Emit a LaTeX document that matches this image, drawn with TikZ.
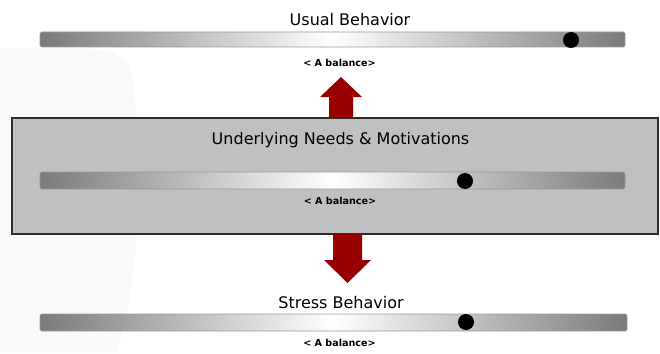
\documentclass[tikz,border=0pt]{standalone}
\usepackage{fontspec}
\setmainfont{DejaVu Sans}
\usetikzlibrary{positioning,calc}
\definecolor{BarGray}{RGB}{122,122,122}
\definecolor{PanelGray}{RGB}{192,192,192}
\definecolor{PanelEdge}{RGB}{45,45,45}
\definecolor{ArrowRed}{RGB}{153,0,0}
\definecolor{HazeBlue}{RGB}{248,249,251}

\begin{document}
\begin{tikzpicture}[
      x=1pt,y=-1pt,
      barNode/.style={left color=BarGray,right color=BarGray,middle color=white,
                      draw=BarGray!75,line width=0.6pt,rounded corners=1.5pt,
                      minimum width=585pt,minimum height=16pt,inner sep=0pt},
      knob/.style={circle,fill=black,minimum size=16pt,inner sep=0pt},
      headText/.style={anchor=base,inner sep=0pt,font=\fontsize{16}{18}\selectfont},
      tagText/.style={anchor=base,inner sep=0pt,font=\fontsize{9.6}{11}\selectfont\bfseries},
      blockArrow/.style={fill=ArrowRed}
    ]
    \useasboundingbox (0,0) rectangle (660,353);

    % faint backdrop on the left
    \fill[HazeBlue] (0,48) -- (90,49) .. controls (122,51) and (131,60) .. (134,90)
      .. controls (142,180) and (140,280) .. (116,353) -- (0,353) -- cycle;

    % Panel in the middle
    \node(panel)[draw=PanelEdge,fill=PanelGray,line width=1.4pt,
                 minimum width=646pt,minimum height=116pt,inner sep=0pt] at (335,176) {};

    % Top scale: usual behavior
    \node(usualText)[headText] at (350,26) {Usual Behavior};
    \node(usualBar)[barNode,minimum height=15pt] at (332.5,39.5) {};
    \node(usualKnob)[knob] at (571,40) {};
    \node(usualTag)[tagText] at (339.5,66) {< A balance>};

    % Middle scale: needs and motivations
    \node(needText)[headText] at (340.5,144) {Underlying Needs \& Motivations};
    \node(needBar)[barNode,minimum height=17pt] at (332.5,180.5) {};
    \node(needKnob)[knob] at (465,181) {};
    \node(needTag)[tagText] at (340,204) {< A balance>};

    % Bottom scale: stress behavior
    \node(stressText)[headText] at (341,308) {Stress Behavior};
    \node(stressBar)[barNode,minimum width=587pt,minimum height=17pt] at (333.5,322.5) {};
    \node(stressKnob)[knob] at (466,322) {};
    \node(stressTag)[tagText] at (339.5,346) {< A balance>};

    % Block arrows out of the panel
    \coordinate(upBase) at (341,118);
    \coordinate(downBase) at (347.5,234);
    \fill[blockArrow] (upBase) ++(-12,0) -- ++(0,-21) -- ++(-9,0) -- ++(21,-20)
      -- ++(21,20) -- ++(-9,0) -- ++(0,21) -- cycle;
    \fill[blockArrow] (downBase) ++(-14.5,0) -- ++(0,26) -- ++(-9,0) -- ++(23.5,23)
      -- ++(23.5,-23) -- ++(-9,0) -- ++(0,-26) -- cycle;
  \end{tikzpicture}
\end{document}
